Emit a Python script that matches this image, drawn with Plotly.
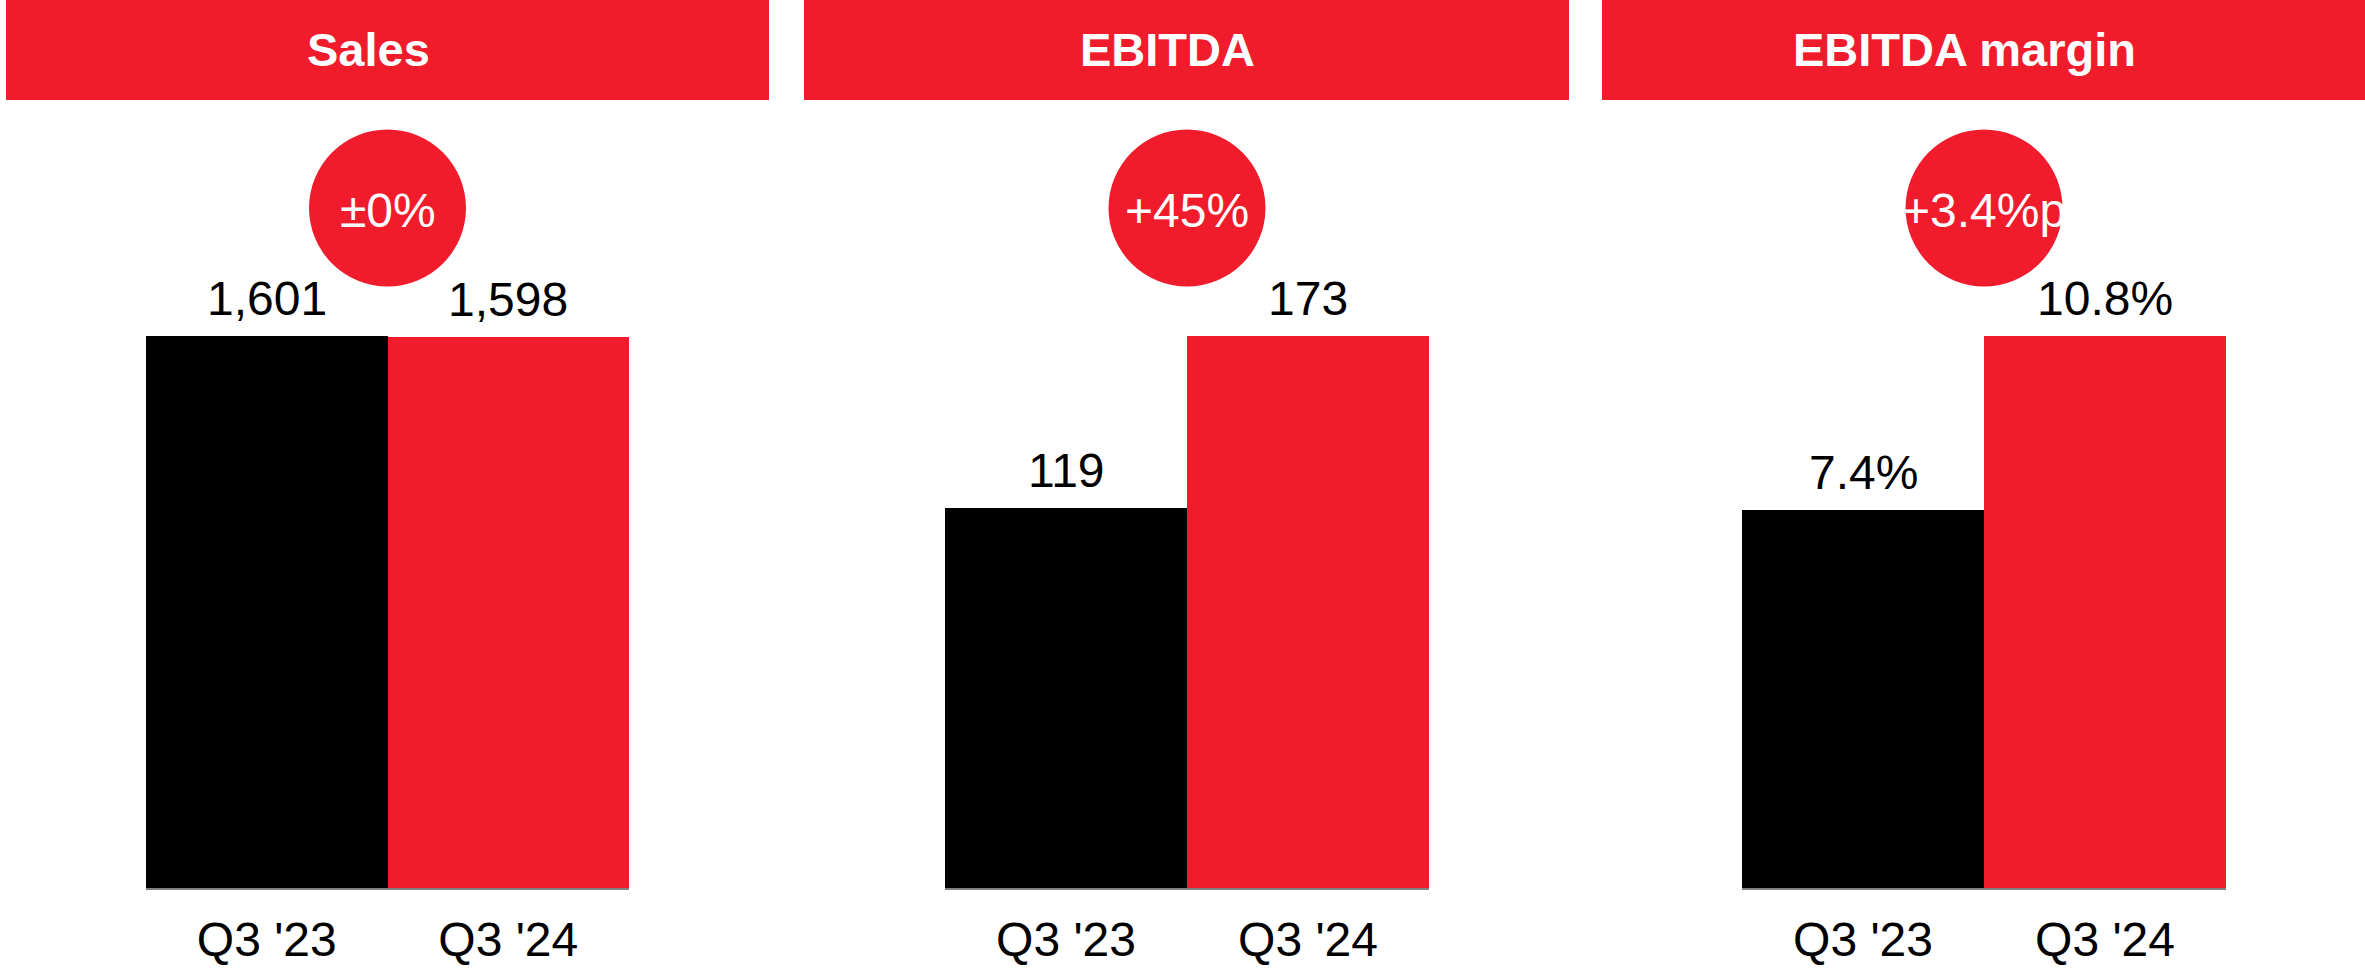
import plotly.graph_objects as go

# ---- data ----
categories = ["Q3 '23", "Q3 '24"]
panel_titles = ["Sales", "EBITDA", "EBITDA margin"]
sales = [1601, 1598]
ebitda = [119, 173]
ebitda_margin = [7.4, 10.8]
change_labels = ["±0%", "+45%", "+3.4%p"]

series = [sales, ebitda, ebitda_margin]
value_fmt = [lambda v: f"{v:,}", lambda v: f"{v:,}", lambda v: f"{v}%"]

# ---- styling / layout (pixels) ----
W, H = 2365, 968
RED = "#F01C2C"
BLACK = "#000000"
FONT = "Liberation Sans, Arial, sans-serif"
bar_px = [(146, 629), (945, 1429), (1742, 2226)]
header_px = [(6, 769), (804, 1569), (1602, 2365)]
header_bottom = 100
plot_top, plot_bottom = 100, 888
bar_full_px = 552  # height of tallest bar in pixels
circle_cy, circle_d = 208, 157

fig = go.Figure()
shapes = []
annotations = []

def px_x(x):
    return x / W

def px_y(y):
    return (H - y) / H

for i in range(3):
    xa = "x" if i == 0 else f"x{i+1}"
    ya = "y" if i == 0 else f"y{i+1}"
    vals = series[i]
    fig.add_trace(go.Bar(
        x=categories, y=vals, xaxis=xa, yaxis=ya,
        marker=dict(color=[BLACK, RED], line=dict(width=0)),
        showlegend=False, hoverinfo="skip",
    ))
    ymax = max(vals) * (plot_bottom - plot_top) / bar_full_px
    x0, x1 = bar_px[i]
    xkey = "xaxis" if i == 0 else f"xaxis{i+1}"
    ykey = "yaxis" if i == 0 else f"yaxis{i+1}"
    fig.update_layout({
        xkey: dict(domain=[px_x(x0), px_x(x1)], anchor=ya, showgrid=False,
                   zeroline=False, showline=True, linecolor="#808080", linewidth=2,
                   ticks="", tickfont=dict(family=FONT, size=48, color="black"),
                   ticklabelstandoff=8, automargin=False, fixedrange=True),
        ykey: dict(domain=[px_y(plot_bottom), px_y(plot_top)], anchor=xa,
                   range=[0, ymax], visible=False, automargin=False, fixedrange=True),
    })
    # value labels
    for c, v in zip(categories, vals):
        annotations.append(dict(
            x=c, y=v, xref=xa, yref=ya, text=value_fmt[i](v), showarrow=False,
            yanchor="bottom", yshift=9,
            font=dict(family=FONT, size=48, color="black")))
    # header bar
    hx0, hx1 = header_px[i]
    shapes.append(dict(type="rect", xref="paper", yref="paper",
                       x0=px_x(hx0), x1=px_x(hx1), y0=px_y(header_bottom), y1=1,
                       fillcolor=RED, line=dict(width=0), layer="below"))
    annotations.append(dict(
        x=px_x((hx0 + hx1) / 2 - 19), y=px_y(50), xref="paper", yref="paper",
        text=f"<b>{panel_titles[i]}</b>", showarrow=False,
        xanchor="center", yanchor="middle",
        font=dict(family=FONT, size=47, color="white")))
    # change circle
    cx = (x0 + x1) / 2
    shapes.append(dict(type="circle", xref="paper", yref="paper",
                       x0=px_x(cx - circle_d / 2), x1=px_x(cx + circle_d / 2),
                       y0=px_y(circle_cy + circle_d / 2), y1=px_y(circle_cy - circle_d / 2),
                       fillcolor=RED, line=dict(width=0), layer="above"))
    annotations.append(dict(
        x=px_x(cx), y=px_y(circle_cy + 2), xref="paper", yref="paper",
        text=change_labels[i], showarrow=False, xanchor="center", yanchor="middle",
        font=dict(family=FONT, size=48, color="white")))

fig.update_layout(
    width=W, height=H,
    margin=dict(l=0, r=0, t=0, b=0, autoexpand=False),
    paper_bgcolor="white", plot_bgcolor="white",
    bargap=0,
    shapes=shapes, annotations=annotations,
)

fig.write_html("out.html", config={"displayModeBar": False},
               post_script="document.body.style.margin='0px';document.body.style.overflow='hidden';")
